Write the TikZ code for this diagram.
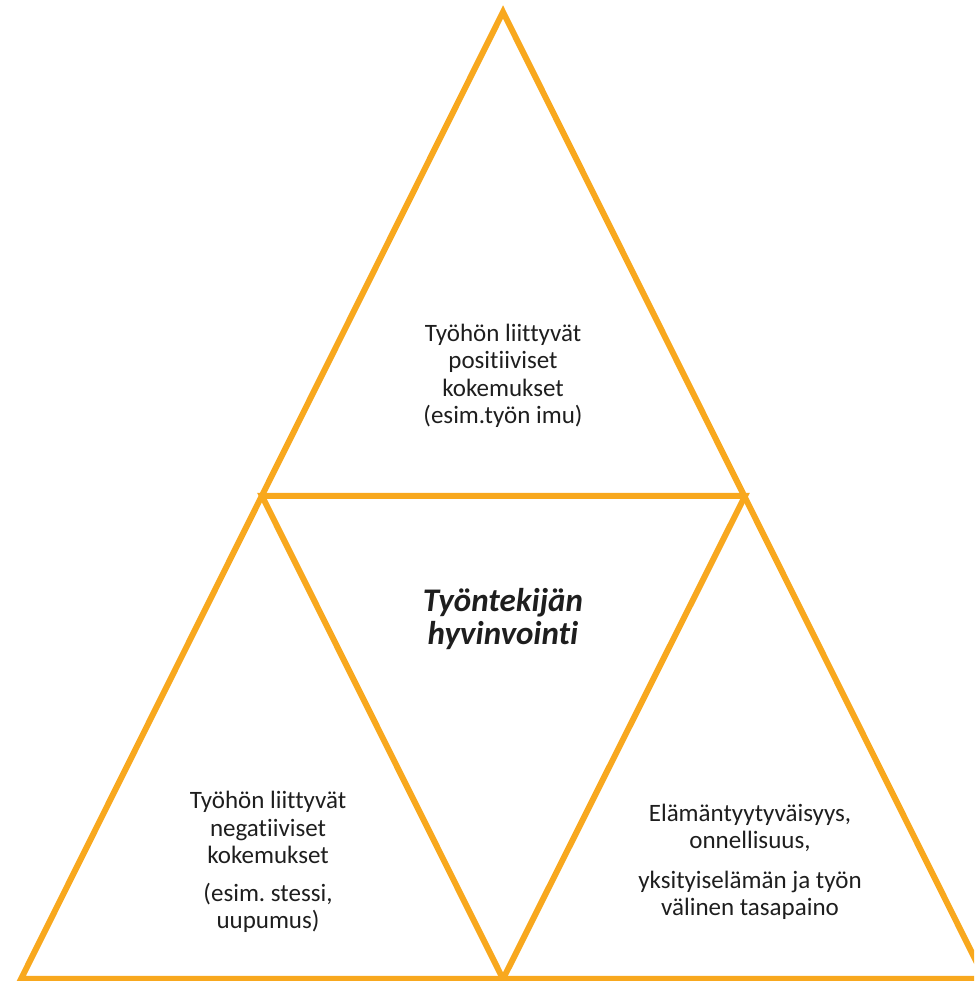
\documentclass[tikz,border=0pt]{standalone}
\usepackage{fontspec}
\setmainfont{Carlito}[Ligatures=NoCommon]
\definecolor{triorange}{RGB}{248,168,30}
\definecolor{txt}{RGB}{30,30,30}
\frenchspacing
\begin{document}
\begin{tikzpicture}[x=1pt,y=1pt,
  edge/.style={draw=triorange,line width=6pt,line join=miter},
  label/.style={align=center,text=txt,font=\fontsize{25}{27.5}\selectfont,inner sep=0pt},
  title/.style={align=center,text=txt,font=\fontsize{33}{33}\selectfont\bfseries\itshape,inner sep=0pt}]
\useasboundingbox (0,0) rectangle (974,981);
% corner points of the big triangle and its edge midpoints
\coordinate (apex) at (503,969);
\coordinate (bl) at (21,2);
\coordinate (br) at (985,2);
\coordinate (ml) at (262,485);
\coordinate (mr) at (745,485);
\coordinate (mb) at (503,2);
\begin{scope}
\clip (0,0) rectangle (974,981);
\draw[edge] (apex) -- (bl) -- (br) -- cycle;
\draw[edge] (ml) -- (mr) -- (mb) -- cycle;
\end{scope}
\node[label] (top) at (503,605) {Työhön liittyvät\\positiiviset\\kokemukset\\(esim.työn imu)};
\node[title] (mid) at (503,362) {Työntekijän\\hyvinvointi};
\node[label] (left) at (268,119) {Työhön liittyvät\\negatiiviset\\kokemukset\\[10pt](esim. stessi,\\uupumus)};
\node[label] (right) at (750,119) {Elämäntyytyväisyys,\\onnellisuus,\\[12pt]yksityiselämän ja työn\\välinen tasapaino};
\end{tikzpicture}
\end{document}
